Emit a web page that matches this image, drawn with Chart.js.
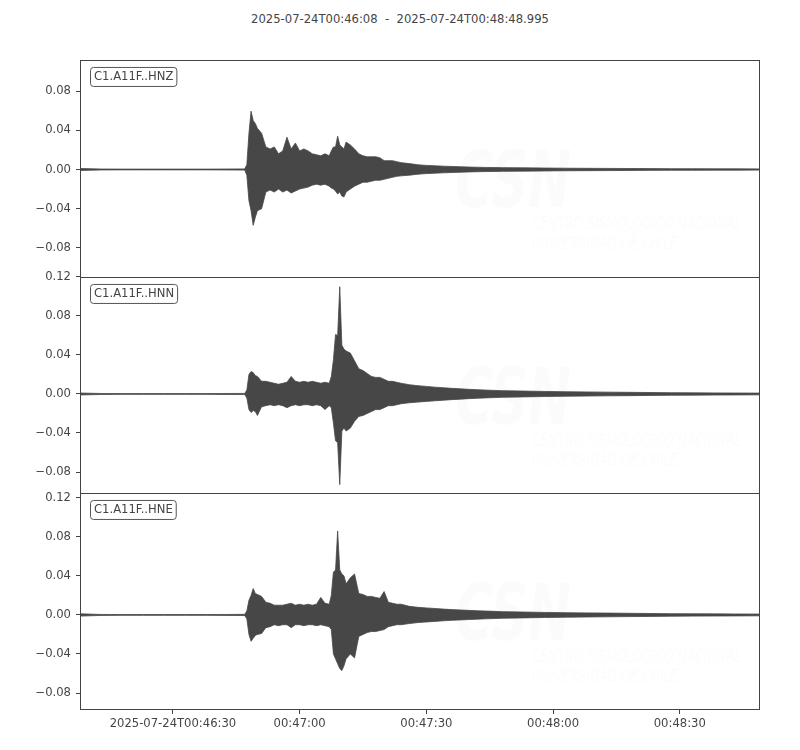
<!DOCTYPE html>
<html>
<head>
<meta charset="utf-8">
<script src="https://cdn.jsdelivr.net/npm/chart.js@4"></script>
<style>
  body { margin: 0; background: #fff; }
  #wrap { position: relative; width: 800px; height: 750px; }
  #title { position: absolute; left: 0; top: 12px; width: 800px; text-align: center;
           font: 11.6px "DejaVu Sans", sans-serif; color: #444; white-space: pre; }
  .panel { position: absolute; left: 0; width: 800px; }
</style>
</head>
<body>
<div id="wrap">
  <div id="title">2025-07-24T00:46:08  -  2025-07-24T00:48:48.995</div>
  <div class="panel" style="top:48px;height:242px"><canvas id="cZ"></canvas></div>
  <div class="panel" style="top:265px;height:241px"><canvas id="cN"></canvas></div>
  <div class="panel" style="top:481px;height:269px"><canvas id="cE"></canvas></div>
</div>
<script>
// seconds after 2025-07-24T00:46:08
const T = [0, 5, 10, 15, 20, 25, 30, 35,
  39, 39.5, 40, 40.5, 41, 41.5, 42,
  43, 44, 45, 46, 47, 48, 49, 50, 51, 52, 53, 54, 55, 56, 57, 58, 59,
  59.5, 60, 60.5, 61, 61.5, 62, 62.5,
  63, 64, 65, 66, 67, 68, 69, 70, 71, 72, 73, 74, 75, 76,
  78, 80, 82, 84, 86, 88, 90, 92, 94, 96, 98, 100,
  105, 110, 115, 120, 125, 130, 135, 140, 145, 150, 155, 161];

// envelope (upper / lower) of each trace
const hnzUp = [0.0010, 0.0005, 0.0004, 0.0004, 0.0004, 0.0004, 0.0004, 0.0005,
  0.0006, 0.005, 0.037, 0.0595, 0.050, 0.047, 0.042,
  0.037, 0.023, 0.021, 0.023, 0.016, 0.019, 0.033, 0.021, 0.027, 0.019, 0.021, 0.019, 0.016, 0.015, 0.014, 0.016, 0.014,
  0.019, 0.023, 0.023, 0.034, 0.025, 0.023, 0.021,
  0.028, 0.025, 0.021, 0.016, 0.014, 0.013, 0.013, 0.013, 0.012, 0.009, 0.009, 0.009, 0.008, 0.007,
  0.006, 0.0048, 0.0042, 0.0038, 0.0034, 0.0031, 0.0028, 0.0025, 0.0023, 0.0021, 0.002, 0.0019,
  0.0017, 0.0015, 0.0013, 0.0012, 0.0011, 0.001, 0.0009, 0.0008, 0.0008, 0.0007, 0.0007, 0.0006];
const hnzLo = [-0.0010, -0.0005, -0.0004, -0.0004, -0.0004, -0.0004, -0.0004, -0.0005,
  -0.0006, -0.006, -0.032, -0.042, -0.057, -0.049, -0.042,
  -0.040, -0.023, -0.021, -0.023, -0.020, -0.023, -0.021, -0.024, -0.022, -0.020, -0.019, -0.018, -0.016, -0.015, -0.016, -0.015, -0.017,
  -0.019, -0.020, -0.022, -0.025, -0.023, -0.027, -0.028,
  -0.023, -0.020, -0.017, -0.015, -0.013, -0.013, -0.012, -0.011, -0.011, -0.010, -0.009, -0.008, -0.007, -0.0065,
  -0.0058, -0.0048, -0.0042, -0.0038, -0.0034, -0.0031, -0.0028, -0.0025, -0.0023, -0.0021, -0.002, -0.0019,
  -0.0017, -0.0015, -0.0013, -0.0012, -0.0011, -0.001, -0.0009, -0.0008, -0.0008, -0.0007, -0.0007, -0.0006];

const hnnUp = [0.0010, 0.0005, 0.0004, 0.0004, 0.0004, 0.0004, 0.0004, 0.0005,
  0.0006, 0.004, 0.020, 0.023, 0.022, 0.019, 0.018,
  0.013, 0.013, 0.012, 0.011, 0.010, 0.011, 0.012, 0.018, 0.013, 0.012, 0.013, 0.012, 0.013, 0.012, 0.011, 0.012, 0.011,
  0.018, 0.035, 0.061, 0.060, 0.110, 0.050, 0.046,
  0.044, 0.042, 0.034, 0.026, 0.024, 0.021, 0.018, 0.017, 0.017, 0.015, 0.013, 0.013, 0.012, 0.011,
  0.0095, 0.0085, 0.0078, 0.007, 0.0064, 0.0058, 0.0053, 0.0048, 0.0044, 0.004, 0.0037, 0.0034,
  0.003, 0.0026, 0.0023, 0.0021, 0.0019, 0.0017, 0.0015, 0.0013, 0.0012, 0.0011, 0.001, 0.0009];
const hnnLo = [-0.0010, -0.0005, -0.0004, -0.0004, -0.0004, -0.0004, -0.0004, -0.0005,
  -0.0006, -0.004, -0.016, -0.019, -0.017, -0.018, -0.022,
  -0.013, -0.012, -0.011, -0.012, -0.011, -0.012, -0.014, -0.012, -0.011, -0.012, -0.011, -0.011, -0.012, -0.011, -0.012, -0.016, -0.012,
  -0.014, -0.030, -0.048, -0.050, -0.093, -0.038, -0.035,
  -0.038, -0.035, -0.028, -0.023, -0.022, -0.020, -0.018, -0.016, -0.016, -0.014, -0.012, -0.012, -0.011, -0.010,
  -0.009, -0.0083, -0.0076, -0.007, -0.0064, -0.0058, -0.0053, -0.0048, -0.0044, -0.004, -0.0037, -0.0034,
  -0.003, -0.0026, -0.0023, -0.0021, -0.0019, -0.0017, -0.0015, -0.0013, -0.0012, -0.0011, -0.001, -0.0009];

const hneUp = [0.0012, 0.0005, 0.0004, 0.0004, 0.0004, 0.0004, 0.0004, 0.0005,
  0.0006, 0.004, 0.015, 0.020, 0.027, 0.022, 0.021,
  0.019, 0.013, 0.012, 0.010, 0.010, 0.010, 0.011, 0.012, 0.010, 0.011, 0.010, 0.011, 0.010, 0.011, 0.018, 0.012, 0.011,
  0.020, 0.044, 0.046, 0.086, 0.046, 0.042, 0.040,
  0.032, 0.038, 0.042, 0.022, 0.021, 0.019, 0.019, 0.018, 0.017, 0.024, 0.013, 0.012, 0.011, 0.011,
  0.0088, 0.0078, 0.0072, 0.0066, 0.006, 0.0055, 0.0051, 0.0047, 0.0043, 0.004, 0.0037, 0.0034,
  0.003, 0.0026, 0.0023, 0.0021, 0.0019, 0.0017, 0.0015, 0.0013, 0.0012, 0.0011, 0.001, 0.0009];
const hneLo = [-0.0012, -0.0005, -0.0004, -0.0004, -0.0004, -0.0004, -0.0004, -0.0005,
  -0.0006, -0.004, -0.020, -0.027, -0.024, -0.021, -0.020,
  -0.019, -0.013, -0.012, -0.010, -0.011, -0.010, -0.010, -0.013, -0.010, -0.010, -0.011, -0.010, -0.010, -0.011, -0.010, -0.011, -0.012,
  -0.015, -0.040, -0.045, -0.050, -0.055, -0.057, -0.052,
  -0.045, -0.040, -0.044, -0.022, -0.020, -0.018, -0.017, -0.017, -0.016, -0.015, -0.012, -0.011, -0.010, -0.010,
  -0.0088, -0.0078, -0.0072, -0.0066, -0.006, -0.0055, -0.0051, -0.0047, -0.0043, -0.004, -0.0037, -0.0034,
  -0.003, -0.0026, -0.0023, -0.0021, -0.0019, -0.0017, -0.0015, -0.0013, -0.0012, -0.0011, -0.001, -0.0009];

const xTickPos = [22, 52, 82, 112, 142];
const xTickLabels = ['2025-07-24T00:46:30', '00:47:00', '00:47:30', '00:48:00', '00:48:30'];
const yTicksZ = [-0.08, -0.04, 0, 0.04, 0.08];
const yTicksNE = [-0.08, -0.04, 0, 0.04, 0.08, 0.12];

const FONT = '"DejaVu Sans", sans-serif';
const FSIZE = 11.6;
const TRACE = '#474747';
const AXIS = '#444';

function fmt(v) {
  let s = Math.abs(v) < 1e-9 ? '0.00' : v.toFixed(2);
  return s.replace('-', '\u2212');
}

// frame, station label and faint watermark
const decor = {
  id: 'decor',
  beforeDatasetsDraw(chart, args, opts) {
    const a = chart.chartArea, ctx = chart.ctx;
    ctx.save();
    ctx.fillStyle = 'rgba(0,0,0,0.014)';
    ctx.translate(a.left + 375, a.top + 147);
    ctx.scale(0.66, 1);
    ctx.font = 'italic bold 78px ' + FONT;
    ctx.fillText('CSN', 0, 0);
    ctx.restore();
    ctx.save();
    ctx.fillStyle = 'rgba(0,0,0,0.014)';
    ctx.font = 'italic 17px ' + FONT;
    ctx.translate(a.left + 452, 0);
    ctx.scale(0.72, 1);
    ctx.fillText('CENTRO SISMOLÓGICO NACIONAL', 0, a.top + 169);
    ctx.fillText('UNIVERSIDAD DE CHILE', 0, a.top + 189);
    ctx.restore();
  },
  afterDraw(chart, args, opts) {
    const a = chart.chartArea, ctx = chart.ctx;
    ctx.save();
    ctx.strokeStyle = AXIS;
    ctx.lineWidth = 1;
    ctx.strokeRect(Math.round(a.left) + 0.5, Math.round(a.top) + 0.5,
      Math.round(a.right - a.left) - 1, Math.round(a.bottom - a.top) - 1);
    ctx.font = FSIZE + 'px ' + FONT;
    const w = ctx.measureText(opts.label).width;
    const bx = a.left + 10.5, by = a.top + 7.5, bw = w + 7, bh = 19;
    ctx.beginPath();
    ctx.roundRect(bx, by, bw, bh, 3);
    ctx.fillStyle = '#fff';
    ctx.fill();
    ctx.strokeStyle = '#555';
    ctx.stroke();
    ctx.fillStyle = AXIS;
    ctx.textBaseline = 'middle';
    ctx.fillText(opts.label, bx + 3.5, by + bh / 2 + 0.5);
    ctx.restore();
  }
};

function makePanel(id, up, lo, yMin, yMax, yTicks, label, showX) {
  const upPts = T.map((t, i) => ({ x: t, y: up[i] }));
  const loPts = T.map((t, i) => ({ x: t, y: lo[i] }));
  const xScale = {
    type: 'linear', min: 0, max: 160.995, display: showX,
    afterBuildTicks: s => { s.ticks = xTickPos.map(v => ({ value: v })); },
    grid: { drawOnChartArea: false, drawTicks: true, tickLength: 4, color: AXIS },
    border: { display: false },
    ticks: { color: AXIS, font: { family: FONT, size: FSIZE }, padding: 3, maxRotation: 0,
             autoSkip: false, callback: (v, i) => xTickLabels[i] }
  };
  if (showX) xScale.afterFit = s => { s.height = 40; };
  new Chart(document.getElementById(id), {
    type: 'line',
    data: {
      datasets: [
        { data: upPts, borderColor: TRACE, backgroundColor: TRACE, borderWidth: 0.8,
          pointRadius: 0, tension: 0, fill: '+1' },
        { data: loPts, borderColor: TRACE, backgroundColor: TRACE, borderWidth: 0.8,
          pointRadius: 0, tension: 0, fill: false }
      ]
    },
    options: {
      responsive: true,
      maintainAspectRatio: false,
      animation: false,
      layout: { padding: { left: 0, right: 40, top: 10, bottom: showX ? 0 : 10 } },
      plugins: { legend: { display: false }, tooltip: { enabled: false }, decor: { label: label } },
      scales: {
        x: xScale,
        y: {
          min: yMin, max: yMax,
          afterBuildTicks: s => { s.ticks = yTicks.map(v => ({ value: v })); },
          afterFit: s => { s.width = 80; },
          grid: { drawOnChartArea: false, drawTicks: true, tickLength: 4, color: AXIS },
          border: { display: false },
          ticks: { color: AXIS, font: { family: FONT, size: FSIZE }, padding: 5,
                   callback: v => fmt(v) }
        }
      }
    },
    plugins: [decor]
  });
}

makePanel('cZ', hnzUp, hnzLo, -0.1108, 0.1118, yTicksZ, 'C1.A11F..HNZ', false);
makePanel('cN', hnnUp, hnnLo, -0.1026, 0.12, yTicksNE, 'C1.A11F..HNN', false);
makePanel('cE', hneUp, hneLo, -0.0974, 0.125, yTicksNE, 'C1.A11F..HNE', true);
</script>
</body>
</html>
